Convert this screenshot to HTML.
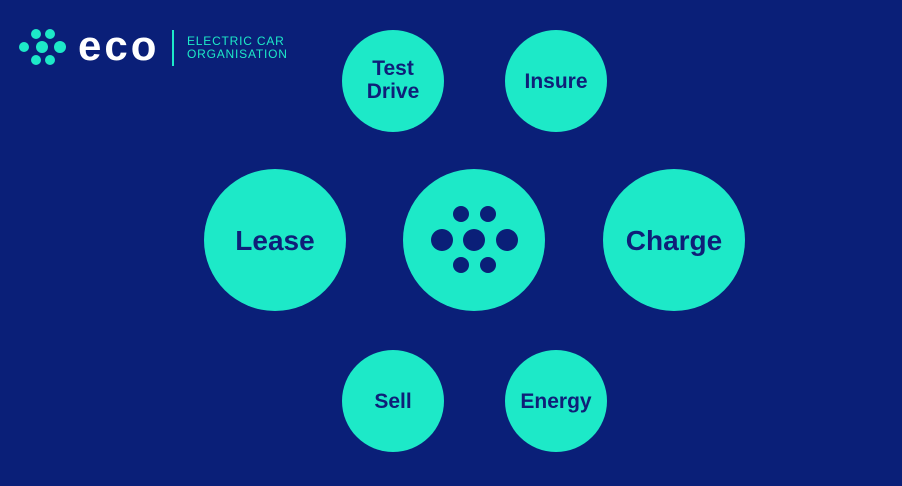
<!DOCTYPE html>
<html><head><meta charset="utf-8"><style>
body{margin:0;width:902px;height:486px;background:#0a1f78;overflow:hidden;font-family:"Liberation Sans",sans-serif}
svg{display:block}
</style></head><body>
<svg width="902" height="486" viewBox="0 0 902 486">
<rect width="902" height="486" fill="#0a1f78"/>
<g fill="#1de9c8">
<circle cx="36" cy="34" r="5"/><circle cx="50" cy="34" r="5"/>
<circle cx="24" cy="47" r="5"/><circle cx="42" cy="47" r="6"/><circle cx="60" cy="47" r="6"/>
<circle cx="36" cy="60" r="5"/><circle cx="50" cy="60" r="5"/>
</g>
<text x="78" y="60" fill="#fff" font-size="42" font-weight="bold" letter-spacing="3">eco</text>
<rect x="172" y="30" width="2" height="36" fill="#1de9c8"/>
<text x="187" y="45" fill="#1de9c8" font-size="12" letter-spacing="0.8">ELECTRIC CAR</text>
<text x="187" y="58" fill="#1de9c8" font-size="12" letter-spacing="0.8">ORGANISATION</text>
<g fill="#1de9c8">
<circle cx="393" cy="81" r="51"/><circle cx="556" cy="81" r="51"/>
<circle cx="275" cy="240" r="71"/><circle cx="474" cy="240" r="71"/><circle cx="674" cy="240" r="71"/>
<circle cx="393" cy="401" r="51"/><circle cx="556" cy="401" r="51"/>
</g>
<g fill="#0a1f78">
<circle cx="461" cy="214" r="8"/><circle cx="488" cy="214" r="8"/>
<circle cx="442" cy="240" r="11"/><circle cx="474" cy="240" r="11"/><circle cx="507" cy="240" r="11"/>
<circle cx="461" cy="265" r="8"/><circle cx="488" cy="265" r="8"/>
</g>
<g fill="#0f1f78" font-weight="bold" text-anchor="middle">
<text x="393" y="75" font-size="21">Test</text>
<text x="393" y="98" font-size="21">Drive</text>
<text x="556" y="88" font-size="21">Insure</text>
<text x="275" y="250" font-size="28">Lease</text>
<text x="674" y="250" font-size="28">Charge</text>
<text x="393" y="408" font-size="21">Sell</text>
<text x="556" y="408" font-size="21">Energy</text>
</g>
</svg>
</body></html>
